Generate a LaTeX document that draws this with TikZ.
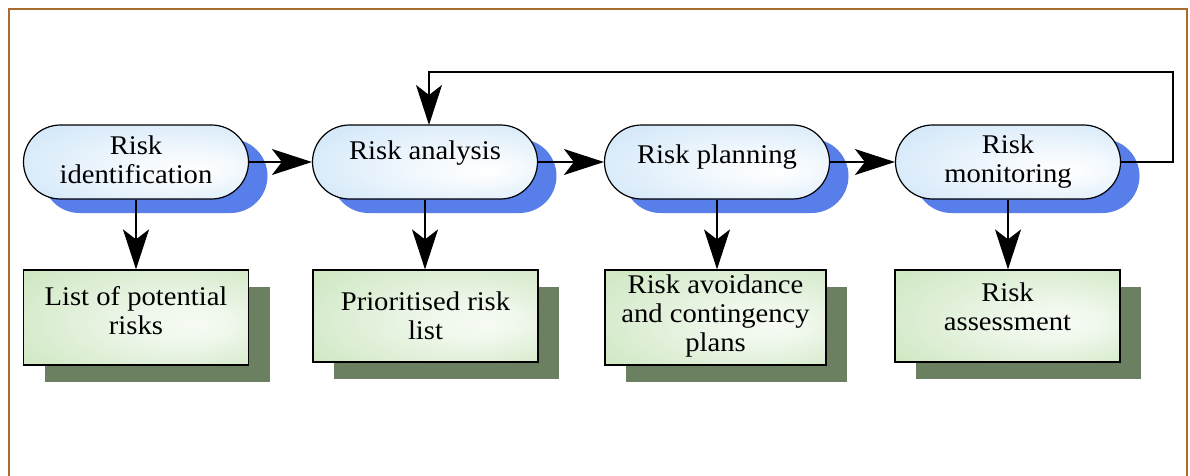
\documentclass[tikz,border=0pt]{standalone}
\usepackage{fontspec}
\setmainfont[FakeStretch=1.06]{Liberation Serif}
\usetikzlibrary{arrows.meta,shadows}

\definecolor{framebrown}{RGB}{168,108,48}
\definecolor{pillblue}{RGB}{190,220,246}
\definecolor{pillshadow}{RGB}{88,126,234}
\definecolor{boxgreen}{RGB}{192,224,176}
\definecolor{boxshadow}{RGB}{106,128,96}

% soft off-centre gradients for the stage pills and output boxes
\pgfdeclareradialshading{pillshade}{\pgfpoint{14bp}{-6bp}}{%
  color(0bp)=(white); color(10bp)=(white!85!pillblue);
  color(34bp)=(white!35!pillblue); color(50bp)=(pillblue)}
\pgfdeclareradialshading{boxshade}{\pgfpoint{14bp}{-4bp}}{%
  color(0bp)=(white!85!boxgreen); color(10bp)=(white!75!boxgreen);
  color(34bp)=(white!30!boxgreen); color(50bp)=(boxgreen)}

\tikzset{
  stage/.style={rectangle, rounded corners=37pt, draw=black, line width=1.2pt,
    minimum width=225pt, minimum height=74pt, inner sep=0pt,
    shading=pillshade,
    drop shadow={shadow xshift=19pt, shadow yshift=-14pt, fill=pillshadow, opacity=1}},
  product/.style={rectangle, draw=black, line width=1.2pt,
    minimum width=225pt, inner sep=0pt,
    shading=boxshade,
    drop shadow={shadow xshift=21pt, shadow yshift=-17pt, fill=boxshadow, opacity=1}},
  caption/.style={align=center, inner sep=0pt, font=\fontsize{27}{29}\selectfont},
  flow/.style={line width=1.2pt, -{Stealth[length=40pt, width=26pt, inset=10pt]}},
}

\begin{document}
\begin{tikzpicture}[x=1pt, y=-1pt]
  \useasboundingbox (0,0) rectangle (1190,476);
  \fill[white] (0,0) rectangle (1190,476);

  % outer frame (its lower edge runs off the page)
  \begin{scope}
    \clip (0,0) rectangle (1190,476);
    \draw[framebrown, line width=2.6pt] (9,500) -- (9,9) -- (1187,9) -- (1187,500);
  \end{scope}

  % process stages
  \node[stage] (P1) at (136,162) {};
  \node[stage] (P2) at (425,162) {};
  \node[stage] (P3) at (717,162) {};
  \node[stage] (P4) at (1008,162) {};

  \node[caption] (P1t) at (136,160) {Risk\\identification};
  \node[caption] (P2t) at (425,153) {Risk analysis};
  \node[caption] (P3t) at (717,157) {Risk planning};
  \node[caption] (P4t) at (1008,162) {Risk\\monitoring};

  % stage outputs
  \node[product, minimum height=95pt] (B1) at (136,317.5) {};
  \node[product, minimum height=92pt] (B2) at (425.5,316) {};
  \node[product, minimum height=95pt, minimum width=221pt] (B3) at (715.5,317.5) {};
  \node[product, minimum height=92pt] (B4) at (1007.5,316) {};

  \node[caption] (B1t) at (136,311) {List of potential\\risks};
  \node[caption] (B2t) at (425.5,316) {Prioritised risk\\list};
  \node[caption] (B3t) at (715.5,316) {Risk avoidance\\and contingency\\plans};
  \node[caption] (B4t) at (1007.5,307) {Risk\\assessment};

  % flow between stages
  \draw[flow] (P1.east) -- (P2.west);
  \draw[flow] (P2.east) -- (P3.west);
  \draw[flow] (P3.east) -- (P4.west);

  % stage to output
  \draw[flow] (P1.south) -- (P1.south |- B1.north);
  \draw[flow] (P2.south) -- (P2.south |- B2.north);
  \draw[flow] (P3.south) -- (P3.south |- B3.north);
  \draw[flow] (P4.south) -- (P4.south |- B4.north);

  % feedback from monitoring back to analysis
  \coordinate (loopR) at (1173,72);
  \coordinate (loopL) at (429,125);
  \draw[flow] (P4.east) -| (loopR) -| (loopL);
\end{tikzpicture}
\end{document}
